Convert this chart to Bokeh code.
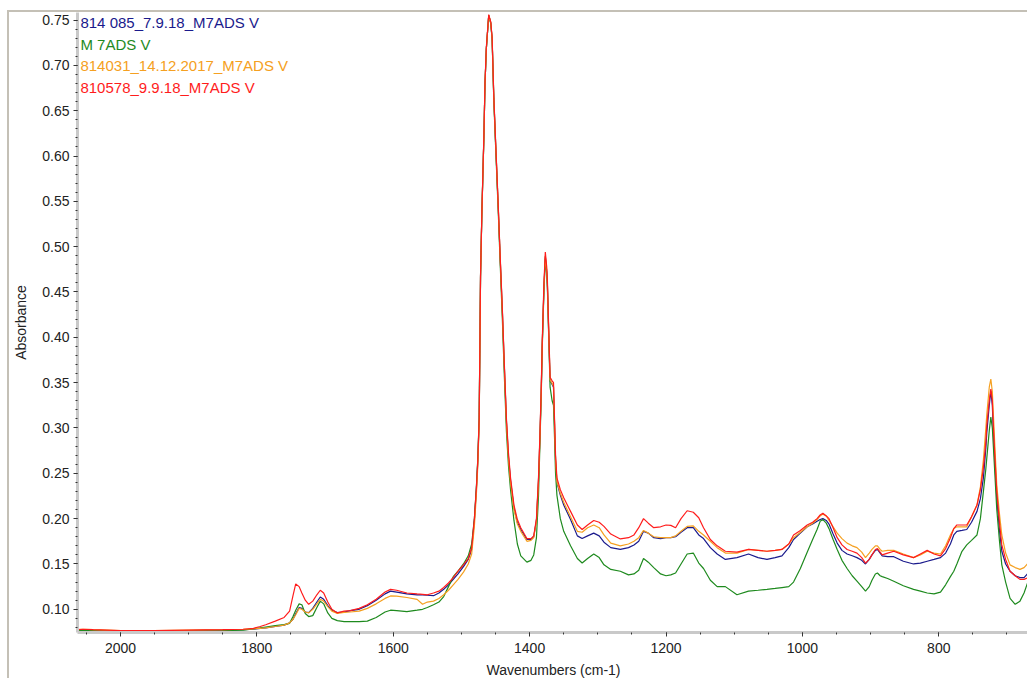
from bokeh.plotting import figure
from bokeh.models import Range1d, FixedTicker, NumeralTickFormatter, Label
from bokeh.embed import file_html
from bokeh.resources import INLINE

# ---------------- data ----------------
wavenumber = [
    2063, 2055, 2040, 2000, 1950, 1900, 1850, 1820, 1805, 1795,
    1787, 1773, 1760, 1752, 1747, 1743, 1738, 1734, 1729, 1724,
    1718, 1712, 1707, 1702, 1696, 1690, 1682, 1672, 1663, 1650,
    1638, 1625, 1612, 1604, 1595, 1580, 1565, 1557, 1550, 1541,
    1533, 1526, 1519, 1512, 1505, 1497, 1490, 1485, 1481, 1478,
    1476, 1474, 1473, 1472, 1470, 1467, 1465.5, 1463.5, 1460, 1457,
    1455, 1452.5, 1449, 1446, 1443, 1440, 1437, 1434, 1431, 1428,
    1423, 1418, 1413, 1404, 1398, 1394, 1390, 1387, 1385, 1383,
    1381.5, 1379, 1377, 1375, 1374, 1372, 1370, 1367, 1365, 1363.5,
    1362, 1360, 1355, 1350, 1340, 1330, 1323, 1315, 1306, 1298,
    1291, 1281, 1267, 1255, 1247, 1240, 1233, 1226, 1218, 1208,
    1200, 1193, 1186, 1178, 1169, 1160, 1152, 1145, 1135, 1125,
    1113, 1096, 1079, 1065, 1052, 1040, 1030, 1020, 1013, 1003,
    993, 985, 978.5, 974, 970, 965, 961, 955, 949, 942,
    934.5, 927, 920, 913, 907.5, 902, 898, 893, 890, 886,
    883, 875, 866, 852, 837, 827, 817, 807, 797.5, 790,
    783, 778, 773.5, 766, 759, 752, 744, 739, 734.6, 731,
    729.6, 726, 723.7, 721.5, 720, 717.5, 715, 711, 707.6, 702,
    695.5, 688, 681, 675, 669, 666,
]

abs_814085 = [
    0.077, 0.077, 0.0768, 0.0765, 0.0765, 0.0765, 0.077, 0.0775, 0.078, 0.079,
    0.0795, 0.081, 0.0825, 0.085, 0.089, 0.095, 0.102, 0.101, 0.097, 0.0964,
    0.101, 0.108, 0.1136, 0.111, 0.104, 0.099, 0.0964, 0.097, 0.0985, 0.100,
    0.104, 0.110, 0.117, 0.120, 0.119, 0.117, 0.116, 0.1158, 0.1155, 0.115,
    0.118, 0.122, 0.127, 0.133, 0.139, 0.147, 0.155, 0.166, 0.198, 0.233,
    0.263, 0.308, 0.385, 0.466, 0.538, 0.623, 0.678, 0.718, 0.755, 0.747,
    0.729, 0.663, 0.598, 0.543, 0.484, 0.429, 0.366, 0.307, 0.268, 0.242,
    0.212, 0.196, 0.188, 0.177, 0.177, 0.180, 0.198, 0.242, 0.287, 0.340,
    0.392, 0.455, 0.489, 0.473, 0.459, 0.404, 0.352, 0.348, 0.345, 0.305,
    0.265, 0.240, 0.226, 0.215, 0.199, 0.181, 0.178, 0.181, 0.184, 0.181,
    0.174, 0.168, 0.166, 0.168, 0.171, 0.175, 0.186, 0.184, 0.179, 0.178,
    0.179, 0.179, 0.180, 0.185, 0.190, 0.190, 0.182, 0.178, 0.168, 0.161,
    0.155, 0.157, 0.161, 0.157, 0.155, 0.157, 0.159, 0.168, 0.177, 0.184,
    0.191, 0.194, 0.197, 0.199, 0.200, 0.198, 0.194, 0.183, 0.173, 0.165,
    0.161, 0.159, 0.157, 0.154, 0.150, 0.155, 0.160, 0.165, 0.166, 0.162,
    0.159, 0.158, 0.158, 0.153, 0.150, 0.151, 0.153, 0.155, 0.157, 0.162,
    0.172, 0.182, 0.186, 0.187, 0.188, 0.196, 0.208, 0.222, 0.245, 0.278,
    0.295, 0.325, 0.341, 0.325, 0.295, 0.258, 0.223, 0.187, 0.164, 0.150,
    0.142, 0.137, 0.135, 0.135, 0.140, 0.141,
]

abs_m7ads = [
    0.0765, 0.0765, 0.0765, 0.076, 0.076, 0.076, 0.0765, 0.077, 0.0785, 0.0795,
    0.0805, 0.082, 0.083, 0.0845, 0.092, 0.099, 0.106, 0.105, 0.0953, 0.092,
    0.093, 0.102, 0.109, 0.106, 0.096, 0.090, 0.0875, 0.0865, 0.0865, 0.0865,
    0.087, 0.091, 0.097, 0.099, 0.0985, 0.0975, 0.099, 0.100, 0.102, 0.105,
    0.108, 0.114, 0.125, 0.136, 0.142, 0.150, 0.159, 0.172, 0.200, 0.236,
    0.266, 0.311, 0.387, 0.467, 0.539, 0.623, 0.678, 0.718, 0.755, 0.746,
    0.728, 0.660, 0.594, 0.538, 0.478, 0.420, 0.356, 0.296, 0.258, 0.232,
    0.198, 0.172, 0.159, 0.152, 0.154, 0.160, 0.179, 0.225, 0.280, 0.335,
    0.388, 0.452, 0.487, 0.470, 0.455, 0.400, 0.345, 0.330, 0.325, 0.290,
    0.250, 0.226, 0.200, 0.186, 0.170, 0.156, 0.151, 0.156, 0.161, 0.157,
    0.149, 0.144, 0.142, 0.138, 0.139, 0.143, 0.156, 0.152, 0.146, 0.139,
    0.137, 0.138, 0.140, 0.150, 0.161, 0.162, 0.151, 0.145, 0.132, 0.125,
    0.125, 0.116, 0.120, 0.121, 0.122, 0.123, 0.124, 0.125, 0.130, 0.145,
    0.163, 0.177, 0.188, 0.197, 0.199, 0.195, 0.189, 0.177, 0.166, 0.154,
    0.145, 0.137, 0.131, 0.125, 0.120, 0.125, 0.132, 0.139, 0.140, 0.137,
    0.136, 0.134, 0.131, 0.126, 0.122, 0.120, 0.118, 0.117, 0.119, 0.127,
    0.136, 0.142, 0.150, 0.164, 0.171, 0.176, 0.182, 0.200, 0.230, 0.255,
    0.267, 0.297, 0.312, 0.300, 0.280, 0.245, 0.210, 0.175, 0.149, 0.130,
    0.112, 0.1055, 0.109, 0.118, 0.131, 0.135,
]

abs_814031 = [
    0.0775, 0.078, 0.0775, 0.0765, 0.0765, 0.077, 0.0775, 0.078, 0.0785, 0.079,
    0.0795, 0.081, 0.0825, 0.085, 0.089, 0.094, 0.101, 0.100, 0.097, 0.096,
    0.100, 0.106, 0.111, 0.109, 0.103, 0.098, 0.0955, 0.0965, 0.097, 0.098,
    0.101, 0.106, 0.112, 0.1147, 0.1145, 0.113, 0.111, 0.1055, 0.108, 0.109,
    0.112, 0.116, 0.121, 0.127, 0.133, 0.141, 0.150, 0.161, 0.192, 0.228,
    0.258, 0.305, 0.383, 0.465, 0.537, 0.622, 0.678, 0.718, 0.755, 0.747,
    0.729, 0.663, 0.598, 0.543, 0.484, 0.428, 0.365, 0.305, 0.266, 0.240,
    0.210, 0.194, 0.186, 0.175, 0.176, 0.179, 0.197, 0.241, 0.286, 0.339,
    0.391, 0.455, 0.490, 0.474, 0.460, 0.405, 0.353, 0.349, 0.346, 0.306,
    0.266, 0.241, 0.228, 0.218, 0.202, 0.186, 0.185, 0.190, 0.193, 0.190,
    0.182, 0.173, 0.170, 0.172, 0.175, 0.179, 0.187, 0.184, 0.180, 0.179,
    0.179, 0.179, 0.181, 0.186, 0.1915, 0.192, 0.186, 0.182, 0.175, 0.168,
    0.162, 0.162, 0.166, 0.165, 0.164, 0.165, 0.166, 0.172, 0.179, 0.185,
    0.191, 0.195, 0.199, 0.203, 0.205, 0.203, 0.198, 0.191, 0.184, 0.178,
    0.173, 0.170, 0.168, 0.163, 0.157, 0.162, 0.166, 0.170, 0.170, 0.166,
    0.164, 0.165, 0.165, 0.161, 0.157, 0.160, 0.164, 0.162, 0.161, 0.170,
    0.182, 0.189, 0.191, 0.191, 0.191, 0.202, 0.215, 0.235, 0.265, 0.300,
    0.315, 0.345, 0.354, 0.340, 0.315, 0.275, 0.237, 0.205, 0.182, 0.162,
    0.149, 0.146, 0.144, 0.146, 0.151, 0.152,
]

abs_810578 = [
    0.0775, 0.078, 0.0775, 0.0765, 0.0765, 0.077, 0.0775, 0.078, 0.079, 0.081,
    0.083, 0.087, 0.091, 0.098, 0.115, 0.128, 0.125, 0.118, 0.110, 0.1055,
    0.109, 0.116, 0.121, 0.118, 0.108, 0.100, 0.096, 0.098, 0.0985, 0.101,
    0.105, 0.111, 0.119, 0.122, 0.121, 0.118, 0.117, 0.1165, 0.116, 0.118,
    0.120, 0.124, 0.129, 0.135, 0.142, 0.149, 0.156, 0.168, 0.200, 0.235,
    0.265, 0.310, 0.387, 0.468, 0.540, 0.625, 0.680, 0.720, 0.756, 0.748,
    0.731, 0.665, 0.600, 0.545, 0.486, 0.431, 0.369, 0.310, 0.272, 0.245,
    0.215, 0.199, 0.190, 0.178, 0.178, 0.181, 0.200, 0.245, 0.290, 0.343,
    0.395, 0.460, 0.494, 0.478, 0.464, 0.409, 0.356, 0.352, 0.350, 0.310,
    0.270, 0.245, 0.232, 0.223, 0.208, 0.193, 0.188, 0.193, 0.198, 0.196,
    0.1915, 0.183, 0.1776, 0.179, 0.182, 0.190, 0.200, 0.195, 0.190, 0.191,
    0.193, 0.1926, 0.190, 0.200, 0.2087, 0.207, 0.201, 0.190, 0.177, 0.170,
    0.164, 0.163, 0.166, 0.165, 0.164, 0.165, 0.166, 0.172, 0.182, 0.187,
    0.193, 0.196, 0.200, 0.204, 0.206, 0.203, 0.200, 0.190, 0.179, 0.171,
    0.166, 0.164, 0.162, 0.157, 0.151, 0.155, 0.160, 0.166, 0.167, 0.163,
    0.160, 0.162, 0.164, 0.160, 0.157, 0.161, 0.165, 0.161, 0.159, 0.167,
    0.179, 0.189, 0.193, 0.193, 0.193, 0.202, 0.215, 0.232, 0.256, 0.285,
    0.303, 0.330, 0.343, 0.330, 0.303, 0.265, 0.230, 0.195, 0.171, 0.155,
    0.142, 0.137, 0.133, 0.133, 0.135, 0.136,
]

series_names = ["814 085_7.9.18_M7ADS V", "M 7ADS V",
                "814031_14.12.2017_M7ADS V", "810578_9.9.18_M7ADS V"]
series_values = [abs_814085, abs_m7ads, abs_814031, abs_810578]
series_colors = ["#1a1a8c", "#1e8a1e", "#f5a021", "#ff1c1c"]

y_major = [0.10, 0.15, 0.20, 0.25, 0.30, 0.35, 0.40, 0.45, 0.50, 0.55, 0.60, 0.65, 0.70, 0.75]
y_minor = [round(0.07 + 0.01 * i, 2) for i in range(70)]
x_major = [800, 1000, 1200, 1400, 1600, 1800, 2000]
x_minor = list(range(650, 2101, 50))

# ---------------- figure ----------------
FONT = "Liberation Sans"
p = figure(width=1020, height=668, output_backend="svg", toolbar_location=None,
           x_range=Range1d(2063, 667), y_range=Range1d(0.0744, 0.7583),
           min_border_left=68, min_border_right=0, min_border_top=0,
           min_border_bottom=45)
p.margin = (10, 0, 0, 7)
p.styles = {"border-left": "2px solid #c4c0b6", "border-top": "2px solid #c4c0b6"}
p.xgrid.visible = False
p.ygrid.visible = False
p.background_fill_color = "white"
p.border_fill_color = "white"
p.outline_line_color = None

for vals, col in zip(series_values, series_colors):
    p.line(wavenumber, vals, line_color=col, line_width=1.2)

for ax in (p.xaxis[0], p.yaxis[0]):
    ax.axis_line_color = "#c9c9c9"
    ax.axis_line_width = 3
    ax.major_tick_line_color = "#333333"
    ax.minor_tick_line_color = "#333333"
    ax.major_tick_in = 0
    ax.major_tick_out = 4
    ax.minor_tick_in = 0
    ax.minor_tick_out = 2
    ax.major_label_text_font = FONT
    ax.major_label_text_font_size = "14px"
    ax.major_label_text_color = "#222222"
    ax.axis_label_text_font = FONT
    ax.axis_label_text_font_size = "14px"
    ax.axis_label_text_font_style = "normal"
    ax.axis_label_text_color = "#222222"

p.yaxis.ticker = FixedTicker(ticks=y_major, minor_ticks=y_minor)
p.yaxis.formatter = NumeralTickFormatter(format="0.00")
p.yaxis.major_label_standoff = 4
p.yaxis.axis_label = "Absorbance"
p.yaxis.axis_label_standoff = 10

p.xaxis.ticker = FixedTicker(ticks=x_major, minor_ticks=x_minor)
p.xaxis.major_label_standoff = 6
p.xaxis.axis_label = "Wavenumbers (cm-1)"
p.xaxis.axis_label_standoff = 6

# legend as coloured texts in the top-left corner
legend_y = [0.7473, 0.7232, 0.7001, 0.6760]
for name, col, yy in zip(series_names, series_colors, legend_y):
    p.add_layout(Label(x=2058.7, y=yy, text=name, text_color=col,
                       text_font=FONT, text_font_size="15px",
                       text_baseline="middle", text_align="left"))

open("out.html", "w").write(file_html(p, INLINE))
